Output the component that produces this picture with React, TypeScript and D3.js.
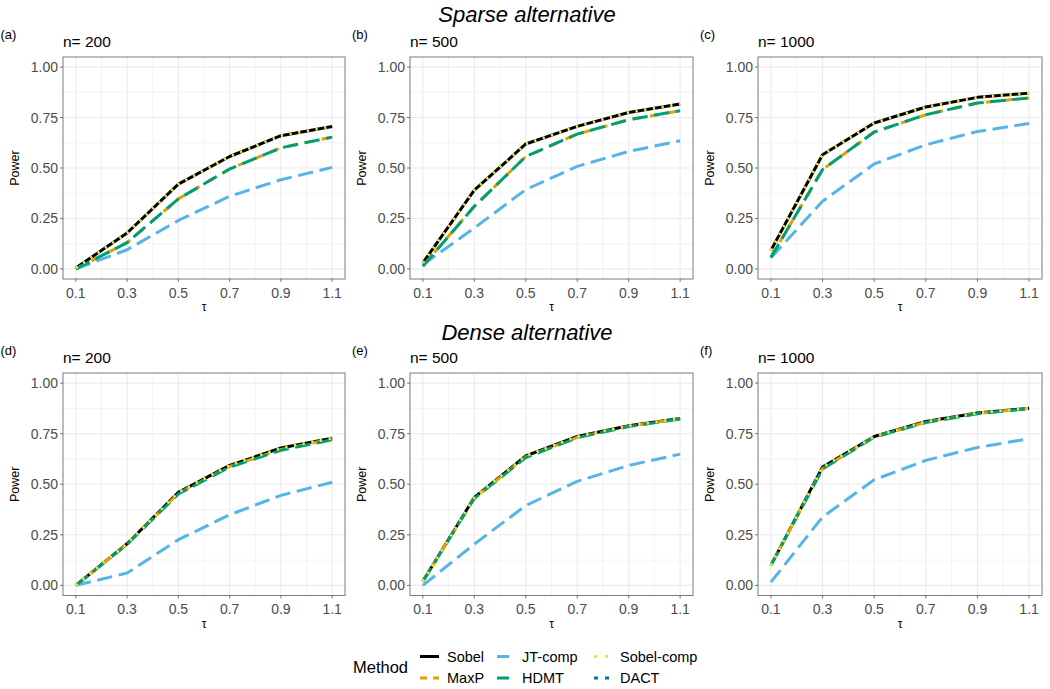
import * as d3 from 'd3'

// tau values on the x axis
const tau = [0.1, 0.3, 0.5, 0.7, 0.9, 1.1]
const xTicks = [0.1, 0.3, 0.5, 0.7, 0.9, 1.1]
const yTicks = [0, 0.25, 0.5, 0.75, 1]
const sampleSizes = [200, 500, 1000]
const scenarios = ['Sparse alternative', 'Dense alternative']
const panelTags = [['(a)', '(b)', '(c)'], ['(d)', '(e)', '(f)']]

// power per method, rows = n 200 / 500 / 1000
const sobelSparse = [
  [0.005, 0.178, 0.42, 0.557, 0.66, 0.706],
  [0.03, 0.39, 0.619, 0.706, 0.775, 0.817],
  [0.092, 0.566, 0.723, 0.802, 0.85, 0.871],
]
const hdmtSparse = [
  [0.0, 0.13, 0.347, 0.495, 0.6, 0.653],
  [0.013, 0.31, 0.557, 0.668, 0.739, 0.784],
  [0.057, 0.492, 0.678, 0.764, 0.822, 0.847],
]
const maxpSparse = [
  [0.0, 0.13, 0.347, 0.495, 0.6, 0.653],
  [0.015, 0.31, 0.557, 0.668, 0.739, 0.784],
  [0.058, 0.492, 0.678, 0.764, 0.822, 0.847],
]
const jtSparse = [
  [0.0, 0.095, 0.24, 0.36, 0.442, 0.503],
  [0.02, 0.203, 0.393, 0.508, 0.582, 0.635],
  [0.055, 0.335, 0.52, 0.615, 0.681, 0.72],
]
const sobelDense = [
  [0.0, 0.206, 0.46, 0.593, 0.679, 0.728],
  [0.02, 0.435, 0.64, 0.736, 0.789, 0.825],
  [0.099, 0.585, 0.736, 0.81, 0.852, 0.876],
]
const hdmtDense = [
  [0.0, 0.203, 0.452, 0.585, 0.668, 0.72],
  [0.02, 0.43, 0.632, 0.73, 0.785, 0.823],
  [0.1, 0.575, 0.733, 0.805, 0.849, 0.874],
]
const maxpDense = [
  [0.0, 0.205, 0.455, 0.588, 0.672, 0.724],
  [0.02, 0.432, 0.635, 0.732, 0.787, 0.824],
  [0.1, 0.578, 0.734, 0.807, 0.85, 0.875],
]
const jtDense = [
  [0.0, 0.061, 0.226, 0.349, 0.445, 0.51],
  [0.0, 0.204, 0.395, 0.514, 0.593, 0.649],
  [0.016, 0.338, 0.522, 0.618, 0.682, 0.725],
]

const lw = 3
const u = 2.2
const methods = [
  { name: 'Sobel', color: '#000000', dash: 'none', key: 'none' },
  { name: 'MaxP', color: '#E69F00', dash: `${4 * u} ${4 * u}`, key: '7 6' },
  { name: 'JT-comp', color: '#56B4E9', dash: `${7 * u} ${3 * u}`, key: 'none' },
  { name: 'HDMT', color: '#009E73', dash: `${7 * u} ${3 * u}`, key: 'none' },
  { name: 'Sobel-comp', color: '#F0E442', dash: `${u} ${3 * u}`, key: '3 8' },
  { name: 'DACT', color: '#0072B2', dash: `${u} ${3 * u}`, key: '4 7' },
]

const font = '"Liberation Sans", Arial, Helvetica, sans-serif'

function seriesFor(row: number, col: number): (number[] | null)[] {
  const s = row === 0
    ? [sobelSparse, maxpSparse, jtSparse, hdmtSparse, sobelSparse]
    : [sobelDense, maxpDense, jtDense, hdmtDense, sobelDense]
  return [...s.map(m => m[col]), null]
}

function Panel({ row, col, left, right, top, bottom }: { row: number; col: number; left: number; right: number; top: number; bottom: number }) {
  const x = d3.scaleLinear().domain([0.05, 1.15]).range([left, right])
  const y = d3.scaleLinear().domain([-0.05, 1.05]).range([bottom, top])
  const line = d3.line<number>().x((_, i) => x(tau[i])).y(d => y(d))
  const xMinor = xTicks.slice(0, -1).map((t, i) => (t + xTicks[i + 1]) / 2)
  const yMinor = yTicks.slice(0, -1).map((t, i) => (t + yTicks[i + 1]) / 2)
  const series = seriesFor(row, col)
  return (
    <g>
      <rect x={left} y={top} width={right - left} height={bottom - top} fill="#fff" />
      {xMinor.map(t => <line key={'xm' + t} x1={x(t)} x2={x(t)} y1={top} y2={bottom} stroke="#ebebeb" strokeWidth={0.6} />)}
      {yMinor.map(t => <line key={'ym' + t} x1={left} x2={right} y1={y(t)} y2={y(t)} stroke="#ebebeb" strokeWidth={0.6} />)}
      {xTicks.map(t => <line key={'x' + t} x1={x(t)} x2={x(t)} y1={top} y2={bottom} stroke="#ebebeb" strokeWidth={1.1} />)}
      {yTicks.map(t => <line key={'y' + t} x1={left} x2={right} y1={y(t)} y2={y(t)} stroke="#ebebeb" strokeWidth={1.1} />)}
      {series.map((vals, i) => vals && (
        <path key={i} d={line(vals)!} fill="none" stroke={methods[i].color} strokeWidth={lw}
          strokeDasharray={methods[i].dash} strokeLinejoin="round" />
      ))}
      <rect x={left} y={top} width={right - left} height={bottom - top} fill="none" stroke="#7a7a7a" strokeWidth={1} />
      {xTicks.map(t => (
        <g key={'xt' + t}>
          <line x1={x(t)} x2={x(t)} y1={bottom} y2={bottom + 3} stroke="#555" strokeWidth={0.8} />
          <text x={x(t)} y={bottom + 18.5} textAnchor="middle" fontSize={14} fill="#4d4d4d">{t.toFixed(1)}</text>
        </g>
      ))}
      {yTicks.map(t => (
        <g key={'yt' + t}>
          <line x1={left - 3} x2={left} y1={y(t)} y2={y(t)} stroke="#555" strokeWidth={0.8} />
          <text x={left - 5} y={y(t) + 5} textAnchor="end" fontSize={14} fill="#4d4d4d">{t.toFixed(2)}</text>
        </g>
      ))}
      <text x={(left + right) / 2} y={bottom + 32} textAnchor="middle" fontSize={12}>τ</text>
      <text transform={`translate(${left - 44},${(top + bottom) / 2}) rotate(-90)`} textAnchor="middle" fontSize={12.5}>Power</text>
      <text x={left} y={top - 10} fontSize={15.5}>n= {sampleSizes[col]}</text>
    </g>
  )
}

export default function App() {
  const cols = [
    { left: 63, right: 345 },
    { left: 410, right: 693 },
    { left: 758, right: 1042 },
  ]
  const rows = [
    { top: 57, bottom: 279 },
    { top: 373, bottom: 595.5 },
  ]
  const tagX = [0.5, 352, 700]
  const titleY = [22, 340]
  // legend key segments [start, end] per column, label x
  const legendKeys = [[420, 439], [497, 509], [594, 612]]
  const legendLabelX = [447, 522, 620]
  const legendRows = [656.5, 678]
  return (
    <svg width={1050} height={689} style={{ position: 'absolute', left: 0, top: 0, fontFamily: font }}>
      <rect width={1050} height={689} fill="#fff" />
      {scenarios.map((s, r) => (
        <text key={s} x={527} y={titleY[r]} textAnchor="middle" fontSize={22} fontStyle="italic">{s}</text>
      ))}
      {rows.map((rw, r) => cols.map((c, ci) => (
        <g key={r + '-' + ci}>
          <text x={tagX[ci]} y={rw.top - 18} fontSize={13}>{panelTags[r][ci]}</text>
          <Panel row={r} col={ci} left={c.left} right={c.right} top={rw.top} bottom={rw.bottom} />
        </g>
      )))}
      <text x={353} y={673} fontSize={16.5}>Method</text>
      {methods.map((m, i) => {
        const k = legendKeys[Math.floor(i / 2)]
        const cy = legendRows[i % 2]
        return (
          <g key={m.name}>
            <line x1={k[0]} x2={k[1]} y1={cy} y2={cy} stroke={m.color} strokeWidth={lw} strokeDasharray={m.key} />
            <text x={legendLabelX[Math.floor(i / 2)]} y={cy + 5} fontSize={14.5}>{m.name}</text>
          </g>
        )
      })}
    </svg>
  )
}
